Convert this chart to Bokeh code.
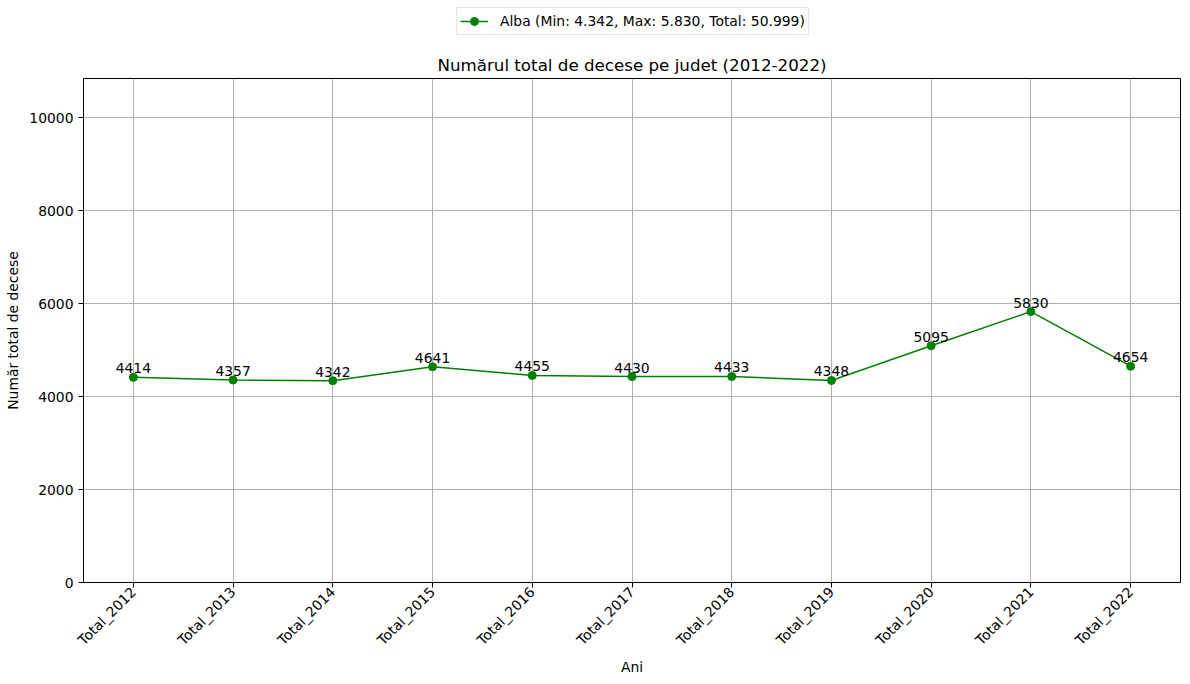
from math import pi

from bokeh.core.properties import value
from bokeh.embed import file_html
from bokeh.layouts import column
from bokeh.resources import INLINE
from bokeh.plotting import figure
from bokeh.models import ColumnDataSource, Legend, Range1d, FixedTicker

# data
ani = ["Total_2012", "Total_2013", "Total_2014", "Total_2015", "Total_2016", "Total_2017",
       "Total_2018", "Total_2019", "Total_2020", "Total_2021", "Total_2022"]
decese = [4414, 4357, 4342, 4641, 4455, 4430, 4433, 4348, 5095, 5830, 4654]
judet = "Alba"
y_ticks = [0, 2000, 4000, 6000, 8000, 10000]

FONT = "DejaVu Sans"
GREEN = "#008000"
FS = "13.9px"


def fmt(v):
    return "{:,}".format(v).replace(",", ".")


source = ColumnDataSource(dict(x=ani, y=decese, label=[str(v) for v in decese]))

# main chart
p = figure(x_range=ani, y_range=Range1d(0, 10845),
           title="Numărul total de decese pe judet (2012-2022)",
           frame_width=1097, frame_height=504,
           min_border_left=83, min_border_right=2, min_border_top=34, min_border_bottom=94,
           output_backend="svg", toolbar_location=None)
p.title.text_font = FONT
p.title.text_font_size = "16.7px"
p.title.text_font_style = "normal"
p.title.text_color = "black"
p.title.align = "center"
p.title.standoff = 8

p.line("x", "y", source=source, line_color=GREEN, line_width=1.5)
p.scatter("x", "y", source=source, size=8, fill_color=GREEN, line_color=GREEN)
p.text("x", "y", text="label", source=source, text_align="center", text_baseline="bottom",
       y_offset=-4, text_font_size=FS, text_color="black", text_font=value(FONT))

p.yaxis.ticker = FixedTicker(ticks=y_ticks)
p.xaxis.major_label_orientation = pi / 4
p.xaxis.axis_label = "Ani"
p.yaxis.axis_label = "Număr total de decese"
p.xaxis.major_label_standoff = 2
p.xaxis.axis_label_standoff = 2
for ax in (p.xaxis, p.yaxis):
    ax.axis_label_text_font = FONT
    ax.axis_label_text_font_size = FS
    ax.axis_label_text_font_style = "normal"
    ax.axis_label_text_color = "black"
    ax.major_label_text_font = FONT
    ax.major_label_text_font_size = FS
    ax.major_label_text_color = "black"
    ax.minor_tick_line_color = None
    ax.major_tick_out = 5
    ax.major_tick_in = 0
    ax.axis_line_color = "black"
    ax.major_tick_line_color = "black"

p.xgrid.grid_line_color = "#b0b0b0"
p.ygrid.grid_line_color = "#b0b0b0"
p.xgrid.grid_line_alpha = 1
p.ygrid.grid_line_alpha = 1
p.outline_line_color = "black"
p.outline_line_alpha = 1

# legend strip above the title (a side-panel legend would not size well)
top = figure(width=1182, height=44, x_range=Range1d(0, 1), y_range=Range1d(0, 1),
             x_axis_type=None, y_axis_type=None, min_border=0,
             output_backend="svg", toolbar_location=None)
top.outline_line_color = None
# one sample point, far outside this strip's ranges, so the key glyph can be drawn
key = ColumnDataSource(dict(x=[0.5], y=[decese[0]]))
l1 = top.line("x", "y", source=key, line_color=GREEN, line_width=1.5)
l2 = top.scatter("x", "y", source=key, size=8, fill_color=GREEN, line_color=GREEN)
legend = Legend(items=[("{} (Min: {}, Max: {}, Total: {})".format(
    judet, fmt(min(decese)), fmt(max(decese)), fmt(sum(decese))), [l1, l2])],
    location=(373, 9), orientation="horizontal",
    label_text_font=FONT, label_text_font_size=FS, label_text_color="black",
    border_line_color="#cccccc", border_line_width=1,
    glyph_width=28, label_height=17, padding=3, margin=0, label_standoff=12)
top.add_layout(legend)

open("out.html", "w").write(file_html(column(top, p), INLINE))
